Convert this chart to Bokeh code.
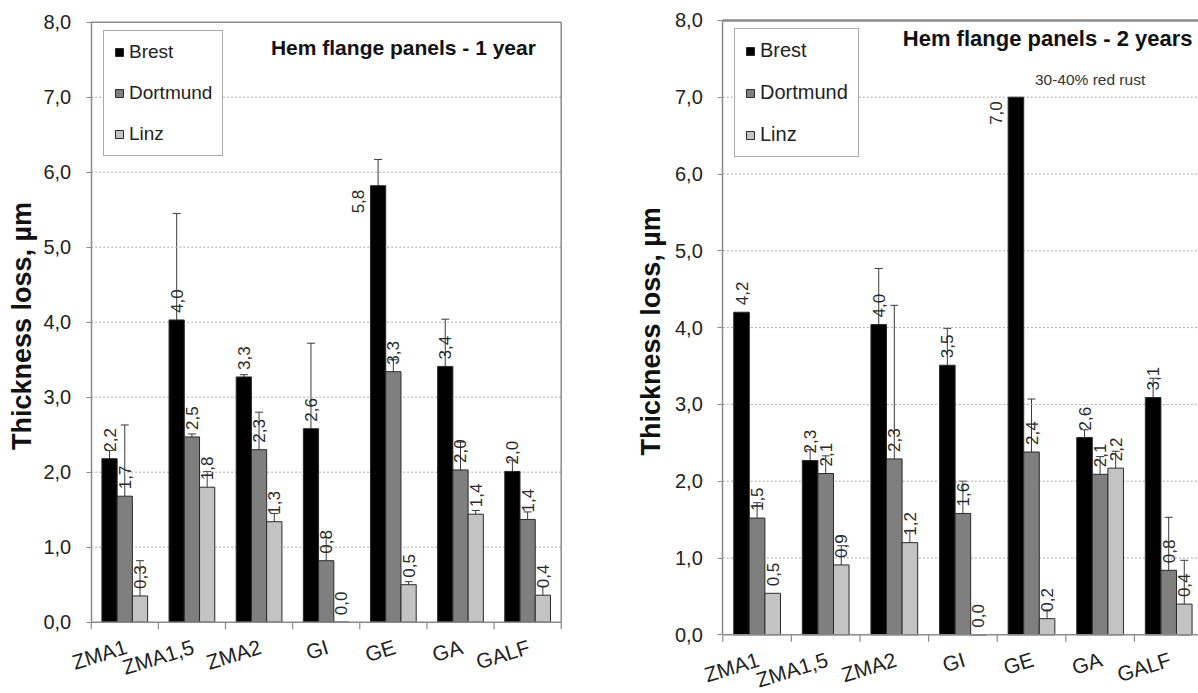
import math
from bokeh.plotting import figure
from bokeh.models import (ColumnDataSource, FixedTicker, CustomJSTickFormatter, Whisker, TeeHead,
                          Legend, LegendItem, Range1d)
from bokeh.layouts import row
from bokeh.embed import file_html
from bokeh.resources import INLINE
from bokeh.core.properties import value

categories = ["ZMA1", "ZMA1,5", "ZMA2", "GI", "GE", "GA", "GALF"]
series = ["Brest", "Dortmund", "Linz"]

# Hem flange panels - 1 year
y1_brest = [2.18, 4.03, 3.27, 2.58, 5.82, 3.41, 2.01]
y1_dortmund = [1.68, 2.47, 2.30, 0.82, 3.34, 2.03, 1.37]
y1_linz = [0.35, 1.80, 1.34, 0.00, 0.50, 1.44, 0.36]
e1_brest = [0.11, 1.42, 0.03, 1.14, 0.35, 0.63, 0.15]
e1_dortmund = [0.95, 0.04, 0.50, 0.31, 0.16, 0.37, 0.10]
e1_linz = [0.47, 0.21, 0.11, 0.00, 0.04, 0.05, 0.12]

# Hem flange panels - 2 years
y2_brest = [4.20, 2.27, 4.04, 3.51, 7.00, 2.57, 3.09]
y2_dortmund = [1.52, 2.10, 2.29, 1.58, 2.38, 2.09, 0.84]
y2_linz = [0.54, 0.91, 1.20, 0.00, 0.21, 2.17, 0.40]
e2_brest = [0.00, 0.14, 0.73, 0.48, 0.00, 0.10, 0.25]
e2_dortmund = [0.20, 0.23, 2.00, 0.42, 0.69, 0.23, 0.69]
e2_linz = [0.00, 0.25, 0.16, 0.00, 0.10, 0.22, 0.57]

title1 = "Hem flange panels - 1 year"
title2 = "Hem flange panels - 2 years"
note2 = "30-40% red rust"
ytitle = "Thickness  loss, µm"
yticks = [0, 1, 2, 3, 4, 5, 6, 7, 8]

FONT = "Liberation Sans"
colors = ["#000000", "#7f7f7f", "#c3c3c3"]
BW = 0.227
GRID = "#a8a8a8"
AXIS = "#8a8a8a"
YMAX = 8


def fmt(v):
    return f"{v:.1f}".replace(".", ",")


def make_chart(vals, errs, title, cfg):
    W, H = cfg["W"], cfg["H"]
    ppc, ppu = cfg["ppc"], cfg["ppu"]
    x0px, y0px = cfg["x0px"], cfg["y0px"]   # pixel position of (0, 0) inside the figure
    xmin = -x0px / ppc
    xmax = (W - x0px) / ppc
    ymin = -(H - y0px) / ppu
    ymax = y0px / ppu
    p = figure(output_backend="svg", toolbar_location=None, tools="",
               frame_width=W, frame_height=H,
               x_range=Range1d(xmin, xmax), y_range=Range1d(ymin, ymax),
               min_border_left=0, min_border_right=0, min_border_top=0, min_border_bottom=0)
    p.title.text = ""
    p.title.visible = False
    p.background_fill_color = "white"
    p.border_fill_color = "white"
    p.outline_line_color = None
    p.xgrid.visible = False
    p.ygrid.visible = False
    p.xaxis.visible = False

    n = len(categories)
    xend = min(n, xmax)

    # dashed horizontal grid lines inside the plot box
    gl = [t for t in yticks if 0 < t < YMAX]
    p.segment(x0=[0] * len(gl), y0=gl, x1=[xend] * len(gl), y1=gl,
              line_color=GRID, line_dash="2 2", line_width=1)

    items = []
    lab_x, lab_y, lab_t = [], [], []
    vmax = max(max(v) for v in vals)
    big_x, big_y, big_t = [], [], []
    for k, (name, v, e) in enumerate(zip(series, vals, errs)):
        xs = [i + 0.5 + (k - 1) * BW for i in range(n)]
        src = ColumnDataSource(dict(x=xs, top=v))
        r = p.vbar(x="x", top="top", width=BW, source=src, fill_color=colors[k],
                   line_color="#2a2a2a", line_width=1)
        items.append(LegendItem(label=name, renderers=[r]))
        ex = [x for x, ee in zip(xs, e) if ee > 0]
        up = [vv + ee for vv, ee in zip(v, e) if ee > 0]
        lo = [max(0.0, vv - ee) for vv, ee in zip(v, e) if ee > 0]
        esrc = ColumnDataSource(dict(base=ex, upper=up, lower=lo))
        w = Whisker(base="base", upper="upper", lower="lower", source=esrc, dimension="height",
                    line_color="#3a3a3a", line_width=1,
                    upper_head=TeeHead(size=8, line_color="#3a3a3a", line_width=1),
                    lower_head=TeeHead(size=8, line_color="#3a3a3a", line_width=1))
        p.add_layout(w)
        for x, vv in zip(xs, v):
            if vv == vmax:
                big_x.append(x); big_y.append(vv); big_t.append(fmt(vv))
            else:
                lab_x.append(x); lab_y.append(vv); lab_t.append(fmt(vv))

    p.text(x=lab_x, y=lab_y, text=lab_t, angle=math.pi / 2, text_align="left",
           text_baseline="middle", y_offset=-7, text_font=value(FONT),
           text_font_size="17px", text_color="#2a2a2a")
    p.text(x=big_x, y=big_y, text=big_t, angle=math.pi / 2, text_align="right",
           text_baseline="middle", x_offset=-20, y_offset=4, text_font=value(FONT),
           text_font_size="17px", text_color="#2a2a2a")

    # chart title inside the box
    p.text(x=[cfg["tx"]], y=[cfg["ty"]], text=[title], text_align="center",
           text_baseline="middle", text_font=value(FONT), text_font_style="bold",
           text_font_size=cfg["tfs"], text_color="#111111")

    # x axis line, top border, category separators
    p.segment(x0=[0], y0=[0], x1=[xend], y1=[0], line_color=AXIS, line_width=1.5)
    p.segment(x0=[0], y0=[YMAX], x1=[xend], y1=[YMAX], line_color=AXIS, line_width=cfg["topw"])
    if cfg["right_border"]:
        p.segment(x0=[n], y0=[0], x1=[n], y1=[YMAX], line_color=AXIS, line_width=1.5)
    p.ray(x=list(range(n + 1)), y=[0] * (n + 1), length=7, length_units="screen",
          angle=-math.pi / 2, line_color=AXIS, line_width=1.2)
    # category names
    p.text(x=[i + 0.5 for i in range(n)], y=[0] * n, text=categories, angle=0.3,
           text_align="right", text_baseline="top", x_offset=-2, y_offset=cfg["xoff"],
           text_font=value(FONT), text_font_size="21px", text_color="#222222")

    # y axis pinned at x = 0
    ya = p.yaxis[0]
    ya.fixed_location = 0
    ya.bounds = (0, YMAX)
    ya.ticker = FixedTicker(ticks=yticks)
    ya.formatter = CustomJSTickFormatter(code="return tick.toFixed(1).replace('.', ',');")
    ya.axis_line_color = AXIS
    ya.axis_line_width = 1.5
    ya.major_tick_line_color = AXIS
    ya.major_tick_out = 5
    ya.major_tick_in = 0
    ya.minor_tick_line_color = None
    ya.major_label_standoff = 15
    ya.major_label_text_font = FONT
    ya.major_label_text_font_size = "20px"
    ya.major_label_text_color = "#222222"

    # y axis title
    p.text(x=[cfg["ytx"] / ppc], y=[YMAX / 2], text=[ytitle], angle=math.pi / 2,
           text_align="center", text_baseline="middle", text_font=value(FONT),
           text_font_style="bold", text_font_size="27px", text_color="#111111")

    legend = Legend(items=items, location=cfg["legloc"], orientation="vertical",
                    glyph_width=10, glyph_height=10, label_standoff=5,
                    spacing=cfg["legsp"], padding=10, margin=0,
                    label_text_font=FONT, label_text_font_size=cfg["legfs"],
                    label_text_color="#222222", label_height=20,
                    border_line_color="#555555", border_line_width=1,
                    background_fill_color="white", background_fill_alpha=1.0)
    p.add_layout(legend)
    return p


cfg1 = dict(W=600, H=693, ppc=470 / 7, ppu=75.0, x0px=90.7, y0px=621.7,
            tx=4.65, ty=7.66, tfs="21px", legloc=(103, 537), legsp=19, legfs="19px",
            xoff=13, topw=1.5, right_border=True, ytx=21 - 90.7)
p1 = make_chart([y1_brest, y1_dortmund, y1_linz], [e1_brest, e1_dortmund, e1_linz], title1, cfg1)

cfg2 = dict(W=598, H=693, ppc=68.6, ppu=76.8, x0px=122.3, y0px=634.3,
            tx=4.736, ty=7.77, tfs="22px", legloc=(134, 536), legsp=19, legfs="20px",
            xoff=13, topw=2.5, right_border=False, ytx=650 - 722.3)
p2 = make_chart([y2_brest, y2_dortmund, y2_linz], [e2_brest, e2_dortmund, e2_linz], title2, cfg2)
p2.text(x=[categories.index("GE") + 0.55], y=[7.23], text=[note2], text_align="left",
        text_baseline="middle", text_font=value(FONT), text_font_size="15.5px",
        text_color="#333333")

layout = row(p1, p2)
open("out.html", "w").write(file_html(layout, INLINE))
